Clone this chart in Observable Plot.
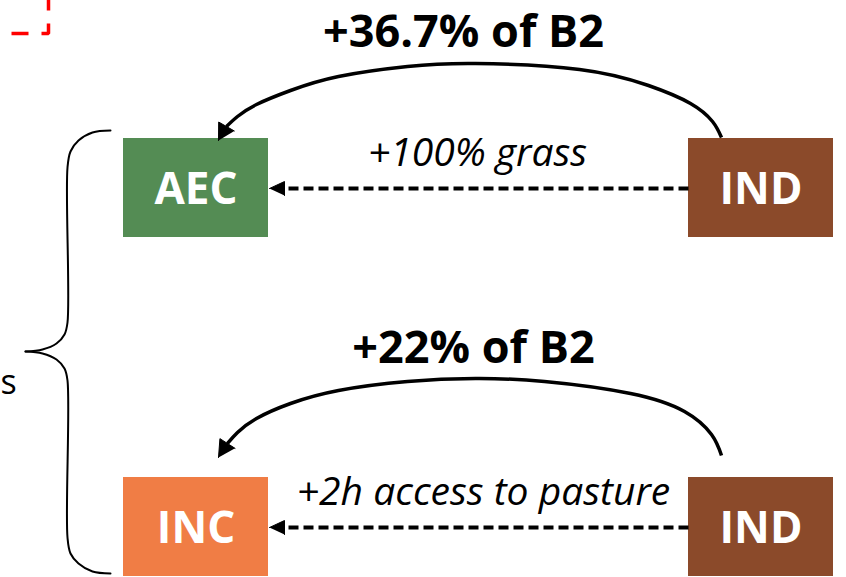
<!DOCTYPE html>
<html><head><meta charset="utf-8">
<script src="https://cdn.jsdelivr.net/npm/d3@7"></script>
<script src="https://cdn.jsdelivr.net/npm/@observablehq/plot@0.6"></script>
<style>html,body{margin:0;padding:0;background:#fff;overflow:hidden} svg{display:block}</style>
</head><body><div id="chart"></div>
<script>
// ---- data ----
const nodeNames = ["AEC", "IND", "INC", "IND"];
const nodeTypes = ["AEC", "IND", "INC"];
const effectLabels = ["+36.7% of B2", "+22% of B2"];
const changeLabels = ["+100% grass", "+2h access to pasture"];
const sideLabel = "s";

// ---- layout (diagram coordinates) ----
const W = 846, H = 577;
const nodeCol = [[123, 268], [688, 833], [123, 268], [688, 833]];
const nodeRow = [[138, 237], [138, 237], [477, 576], [477, 576]];
const nodeColors = ["#548C54", "#8B4A2A", "#F07D45"];

const arcTop = [[721,137],[712,121],[690,103],[648,85],[579,69],[475,63],[407,66],[338,76],[290,90],[256,104],[237,116],[226,126]];
const arcBottom = [[721,455],[711,434],[684,411],[630,393],[544,381],[475,378],[407,381],[338,390],[290,403],[256,418],[237,432],[227,443]];
const arcTips = [[218,140],[218,457]];
const dashRows = [188, 527];
const dashFrom = 688, dashBase = 284, dashTip = 269;
const effectPos = [[463, 46], [473, 362]];
const changePos = [[477, 165], [483, 504]];
const braceTop = [[110,130],[92,132],[78,140],[70,151],[67,167],[67,322],[64,334],[56,343],[42,349],[25,351]];
const braceBottom = [[25,351],[42,353],[56,359],[64,368],[67,380],[67,537],[70,553],[78,563],[92,571],[110,573]];
const cornerPath = [[11,33],[48,33],[48,-12]];

// ---- build tables ----
const boxes = nodeNames.map((name, i) => ({
  name, type: name, x1: nodeCol[i][0], x2: nodeCol[i][1], y1: nodeRow[i][0], y2: nodeRow[i][1]
}));
const arcs = [arcTop, arcBottom].flatMap((pts, k) => pts.map(([x, y]) => ({x, y, k})));

function head(base, tip, half, id) {
  const dx = tip[0] - base[0], dy = tip[1] - base[1];
  const L = Math.hypot(dx, dy), px = -dy / L * half, py = dx / L * half;
  return [
    {id, x: tip[0], y: tip[1]},
    {id, x: base[0] + px, y: base[1] + py},
    {id, x: base[0] - px, y: base[1] - py}
  ];
}
const heads = [
  ...head(arcTop[arcTop.length - 1], arcTips[0], 9, "a0"),
  ...head(arcBottom[arcBottom.length - 1], arcTips[1], 9, "a1"),
  ...dashRows.flatMap((y, i) => head([dashBase, y], [dashTip, y], 7, "d" + i))
];
const dashes = dashRows.map(y => ({x1: dashFrom, x2: dashBase, y}));
const effects = effectLabels.map((text, i) => ({text, x: effectPos[i][0], y: effectPos[i][1]}));
const changes = changeLabels.map((text, i) => ({text, x: changePos[i][0], y: changePos[i][1]}));
const braces = [braceTop, braceBottom].flatMap((pts, k) => pts.map(([x, y]) => ({x, y, k})));
const corner = cornerPath.map(([x, y]) => ({x, y}));

const font = "'Open Sans', 'DejaVu Sans', sans-serif";

const chart = Plot.plot({
  width: W, height: H, margin: 0,
  x: {domain: [0, W], range: [0, W], axis: null},
  y: {domain: [0, H], range: [0, H], axis: null},
  color: {domain: nodeTypes, range: nodeColors},
  style: {background: "white", fontFamily: font, overflow: "visible"},
  marks: [
    Plot.line(corner, {x: "x", y: "y", stroke: "#FF0000", strokeWidth: 3.5, strokeDasharray: "17,13", strokeLinecap: "butt", strokeLinejoin: "miter"}),
    Plot.line(braces, {x: "x", y: "y", z: "k", curve: "catmull-rom", stroke: "black", strokeWidth: 2}),
    Plot.rect(boxes, {x1: "x1", x2: "x2", y1: "y1", y2: "y2", fill: "type"}),
    Plot.text(boxes, {x: d => (d.x1 + d.x2) / 2, y: d => (d.y1 + d.y2) / 2 + 16, text: "name", fill: "white", fontSize: 44, fontWeight: "bold", fontFamily: font, lineAnchor: "bottom"}),
    Plot.line(arcs, {x: "x", y: "y", z: "k", curve: "natural", stroke: "black", strokeWidth: 3.5, strokeLinecap: "butt"}),
    Plot.link(dashes, {x1: "x1", x2: "x2", y1: "y", y2: "y", stroke: "black", strokeWidth: 4, strokeDasharray: "10,5", strokeLinecap: "butt"}),
    Plot.line(heads, {x: "x", y: "y", z: "id", fill: "black", stroke: "black", strokeWidth: 1, strokeLinejoin: "miter"}),
    Plot.text(effects, {x: "x", y: "y", text: "text", fontSize: 45, fontWeight: "bold", fill: "black", fontFamily: font, lineAnchor: "bottom"}),
    Plot.text(changes, {x: "x", y: "y", text: "text", fontSize: 39, fontStyle: "italic", fill: "black", fontFamily: font, lineAnchor: "bottom"}),
    Plot.text([sideLabel], {x: 0, y: 393, text: d => d, textAnchor: "start", fontSize: 34, fill: "black", fontFamily: font, lineAnchor: "bottom"})
  ]
});
document.getElementById("chart").appendChild(chart);
</script>
</body></html>
